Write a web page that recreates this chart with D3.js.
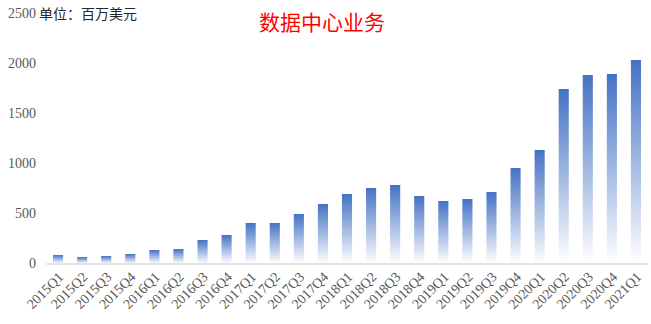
<!DOCTYPE html>
<html><head><meta charset="utf-8">
<script src="https://cdn.jsdelivr.net/npm/d3@7"></script>
<style>body{margin:0;background:#fff}svg{display:block}
.tk text{font-family:"Liberation Serif","Times New Roman",serif;font-size:14px;fill:#595959}
</style>
</head><body>
<svg id="c" width="651" height="324"></svg>
<script>
const categories = ["2015Q1","2015Q2","2015Q3","2015Q4","2016Q1","2016Q2","2016Q3","2016Q4","2017Q1","2017Q2","2017Q3","2017Q4","2018Q1","2018Q2","2018Q3","2018Q4","2019Q1","2019Q2","2019Q3","2019Q4","2020Q1","2020Q2","2020Q3","2020Q4","2021Q1"];
const values = [85,65,75,95,135,145,235,285,405,405,495,595,695,755,785,675,625,645,715,955,1135,1745,1885,1895,2035];
const yTicks = [0,500,1000,1500,2000,2500];
const title = "数据中心业务";
const unit = "单位：百万美元";

const svg = d3.select("#c");
const x = d3.scaleBand().domain(categories).range([46,648]).paddingInner(0.58).paddingOuter(0.29);
const y = d3.scaleLinear().domain([0,2500]).range([263.5,13.5]);

const defs = svg.append("defs");
const g = defs.append("linearGradient").attr("id","bg").attr("x1",0).attr("y1",0).attr("x2",0).attr("y2",1);
g.append("stop").attr("offset","0%").attr("stop-color","#4472C4");
g.append("stop").attr("offset","100%").attr("stop-color","#ffffff");

svg.append("g").selectAll("rect").data(values).join("rect")
  .attr("x",(d,i)=>x(categories[i]))
  .attr("width",x.bandwidth())
  .attr("y",d=>y(d))
  .attr("height",d=>y(0)-y(d))
  .attr("fill","url(#bg)");

// x axis
const xa = svg.append("g").attr("class","tk").attr("transform",`translate(0,${y(0)})`)
  .call(d3.axisBottom(x).tickSize(0).tickPadding(0));
xa.attr("font-family",null).attr("font-size",null);
xa.select(".domain").attr("stroke","#d9d9d9").attr("stroke-width",1.3);
xa.selectAll("text")
  .attr("text-anchor","end").attr("dy",null).attr("dx",null).attr("fill",null)
  .attr("transform","translate(4,12) rotate(-45)")
  .attr("dominant-baseline","middle");

// y axis
const ya = svg.append("g").attr("class","tk").attr("transform","translate(36,0)")
  .call(d3.axisLeft(y).tickValues(yTicks).tickFormat(d3.format("d")).tickSize(0).tickPadding(0));
ya.attr("font-family",null).attr("font-size",null);
ya.select(".domain").remove();
ya.selectAll("text").attr("fill",null);

svg.append("text").attr("x",39).attr("y",y(2500)+5)
  .attr("font-family","'Noto Sans CJK SC', sans-serif").attr("font-size","14px").attr("fill","#262626")
  .text(unit);

svg.append("text").attr("x",322).attr("y",30).attr("text-anchor","middle")
  .attr("font-family","'Noto Sans CJK SC', sans-serif").attr("font-size","21px").attr("fill","#FF0000")
  .text(title);
</script>
</body></html>
